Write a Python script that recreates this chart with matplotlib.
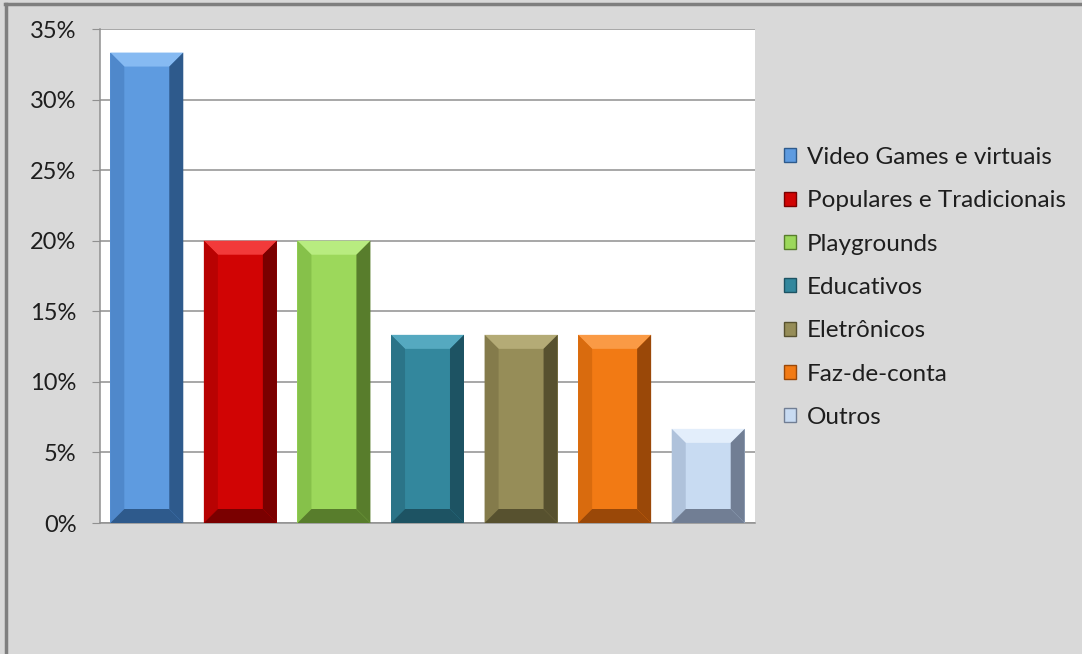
import matplotlib.pyplot as plt
from matplotlib.patches import Polygon, Patch
import matplotlib.lines as mlines

# ── dados ─────────────────────────────────────────────────────────────
categorias = ["Video Games e virtuais", "Populares e Tradicionais", "Playgrounds",
              "Educativos", "Eletrônicos", "Faz-de-conta", "Outros"]
valores = [33.33, 20.0, 20.0, 13.33, 13.33, 13.33, 6.67]
yticks = [0, 5, 10, 15, 20, 25, 30, 35]

# face, topo (claro), esquerda, direita/baixo (escuro)
cores = [
    ("#5E9BE0", "#86BAF2", "#4F88CB", "#2E5A8C"),
    ("#D10404", "#F23A3A", "#B80202", "#7A0000"),
    ("#9CD85B", "#B8EC80", "#86C14A", "#587D2C"),
    ("#33879D", "#55A9C0", "#2B7488", "#1D5363"),
    ("#968D58", "#B4AB76", "#847B4B", "#57512F"),
    ("#F27A14", "#FA9A45", "#D96B0E", "#9A4808"),
    ("#C8DBF2", "#E3EEFB", "#AFC2DB", "#717E94"),
]

FONTE = "Lato"
W, H = 1082, 654
fig = plt.figure(figsize=(W / 100, H / 100), dpi=100)
fig.patch.set_facecolor("#D9D9D9")

# moldura (linhas superior e esquerda)
fig.add_artist(mlines.Line2D([5 / W, 1], [1 - 4 / H, 1 - 4 / H], color="#7F7F7F", lw=2.5))
fig.add_artist(mlines.Line2D([6 / W, 6 / W], [0, 1 - 4 / H], color="#7F7F7F", lw=2.5))

left, right, top, bottom = 100, 755, 29, 523
ax = fig.add_axes([left / W, 1 - bottom / H, (right - left) / W, (bottom - top) / H])
ax.set_facecolor("white")
ax.set_xlim(-0.5, len(valores) - 0.5)
ax.set_ylim(0, 35)

ax.set_yticks(yticks)
ax.set_yticklabels([f"{v}%" for v in yticks])
ax.set_xticks([])
ax.yaxis.grid(True, color="#909090", lw=1.1)
ax.set_axisbelow(True)
ax.tick_params(axis="y", length=6, color="#909090", pad=11, labelsize=17,
               labelcolor="#1E1E1E")
for lbl in ax.get_yticklabels():
    lbl.set_fontfamily(FONTE)
for s in ["top", "right"]:
    ax.spines[s].set_visible(False)
for s in ["left", "bottom"]:
    ax.spines[s].set_color("#909090")
    ax.spines[s].set_linewidth(1.1)

# barras com chanfro
larg = 0.78
px_x = (right - left) / len(valores)
px_y = (bottom - top) / 35
bev = 14
bx = bev / px_x
by = bev / px_y

for i, (v, (face, claro, esq, escuro)) in enumerate(zip(valores, cores)):
    x0, x1 = i - larg / 2, i + larg / 2
    ax.add_patch(Polygon([(x0, 0), (x1, 0), (x1, v), (x0, v)], closed=True,
                         facecolor=face, edgecolor="none", zorder=3))
    partes = [
        ([(x0, v), (x1, v), (x1 - bx, v - by), (x0 + bx, v - by)], claro),
        ([(x0, 0), (x0, v), (x0 + bx, v - by), (x0 + bx, by)], esq),
        ([(x1, 0), (x1, v), (x1 - bx, v - by), (x1 - bx, by)], escuro),
        ([(x0, 0), (x1, 0), (x1 - bx, by), (x0 + bx, by)], escuro),
    ]
    for pts, c in partes:
        ax.add_patch(Polygon(pts, closed=True, facecolor=c, edgecolor="none", zorder=4))

# legenda
handles = [Patch(facecolor=c[0], edgecolor=c[3], lw=1) for c in cores]
leg = fig.legend(handles, categorias, loc="upper left",
                 bbox_to_anchor=(762 / W, 1 - 125 / H),
                 frameon=False, handlelength=0.5, handleheight=0.5,
                 handletextpad=0.45, labelspacing=0.92,
                 prop={"family": FONTE, "size": 17.5})
for t in leg.get_texts():
    t.set_color("#1E1E1E")

plt.savefig("out.png", dpi=100, facecolor=fig.get_facecolor())
